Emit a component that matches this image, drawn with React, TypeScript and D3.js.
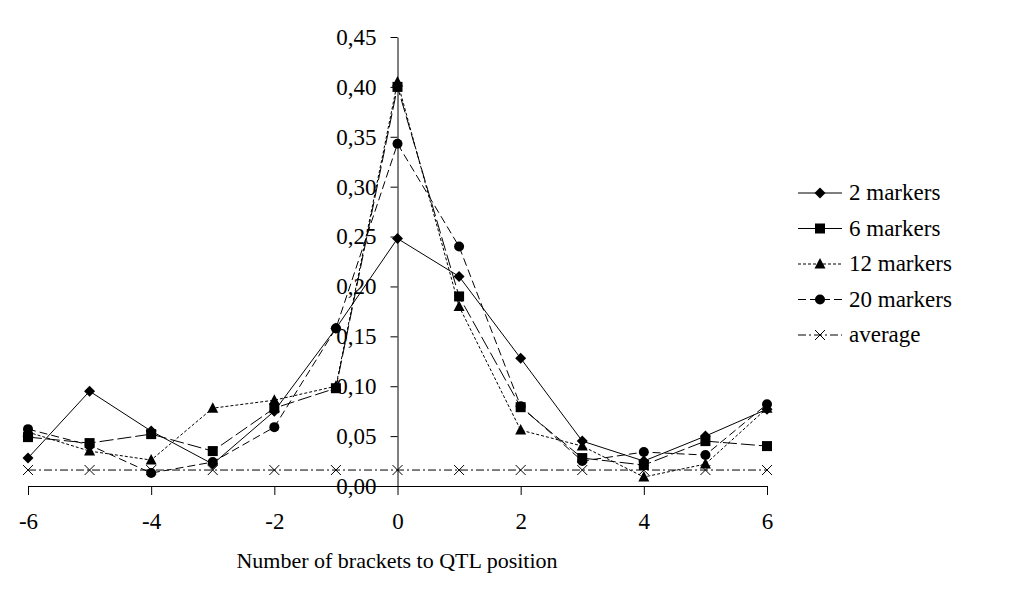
import * as d3 from 'd3';
import React, { useRef, useEffect } from 'react';

const brackets = [-6, -5, -4, -3, -2, -1, 0, 1, 2, 3, 4, 5, 6];
const twoMarkers = [0.028, 0.095, 0.055, 0.022, 0.075, 0.158, 0.248, 0.21, 0.128, 0.045, 0.025, 0.05, 0.077];
const sixMarkers = [0.049, 0.043, 0.052, 0.035, 0.078, 0.098, 0.4, 0.19, 0.079, 0.028, 0.021, 0.045, 0.04];
const twelveMarkers = [0.054, 0.035, 0.026, 0.078, 0.086, 0.1, 0.405, 0.18, 0.056, 0.04, 0.009, 0.022, 0.078];
const twentyMarkers = [0.057, 0.041, 0.013, 0.024, 0.059, 0.158, 0.343, 0.24, 0.08, 0.025, 0.034, 0.031, 0.082];
const average = [0.016, 0.016, 0.016, 0.016, 0.016, 0.016, 0.016, 0.016, 0.016, 0.016, 0.016, 0.016, 0.016];
const yTicks = [0, 0.05, 0.1, 0.15, 0.2, 0.25, 0.3, 0.35, 0.4, 0.45];
const xTicks = [-6, -4, -2, 0, 2, 4, 6];

const series = [
  { name: '2 markers', values: twoMarkers, symbol: 'diamond', dash: null },
  { name: '6 markers', values: sixMarkers, symbol: 'square', dash: '14,4' },
  { name: '12 markers', values: twelveMarkers, symbol: 'triangle', dash: '3,2' },
  { name: '20 markers', values: twentyMarkers, symbol: 'circle', dash: '8,4' },
  { name: 'average', values: average, symbol: 'cross', dash: '8,3,2,3' },
];

const width = 1031;
const height = 608;
const font = '"Liberation Serif", "Times New Roman", serif';

function drawSymbol(g, type, cx, cy) {
  if (type === 'diamond') {
    g.append('path').attr('d', `M${cx},${cy - 5.5}L${cx + 5.5},${cy}L${cx},${cy + 5.5}L${cx - 5.5},${cy}Z`).attr('fill', '#000');
  } else if (type === 'square') {
    g.append('rect').attr('x', cx - 5).attr('y', cy - 5).attr('width', 10).attr('height', 10).attr('fill', '#000');
  } else if (type === 'triangle') {
    g.append('path').attr('d', `M${cx},${cy - 6}L${cx + 5.5},${cy + 4.5}L${cx - 5.5},${cy + 4.5}Z`).attr('fill', '#000');
  } else if (type === 'circle') {
    g.append('circle').attr('cx', cx).attr('cy', cy).attr('r', 5).attr('fill', '#000');
  } else {
    g.append('path').attr('d', `M${cx - 5},${cy - 5}L${cx + 5},${cy + 5}M${cx + 5},${cy - 5}L${cx - 5},${cy + 5}`)
      .attr('stroke', '#000').attr('stroke-width', 1);
  }
}

export default function App() {
  const ref = useRef(null);

  useEffect(() => {
    const svg = d3.select(ref.current);
    svg.selectAll('*').remove();

    const x = d3.scaleLinear().domain([-6, 6]).range([28, 767]);
    const y = d3.scaleLinear().domain([0, 0.45]).range([486, 37]);
    const fmt = d => d3.format('.2f')(d).replace('.', ',');

    // y axis at x = 0
    const yAxis = svg.append('g')
      .attr('transform', `translate(${x(0)},0)`)
      .call(d3.axisLeft(y).tickValues(yTicks).tickSize(7).tickSizeOuter(0).tickPadding(14).tickFormat(fmt));
    yAxis.selectAll('text').attr('font-family', font).attr('font-size', 23).attr('fill', '#000');
    yAxis.selectAll('line, path').attr('stroke', '#000');

    const xAxis = svg.append('g')
      .attr('transform', `translate(0,${y(0)})`)
      .call(d3.axisBottom(x).tickValues(xTicks).tickSize(9).tickSizeOuter(0).tickPadding(18)
        .tickFormat(d => String(d)));
    xAxis.selectAll('text').attr('font-family', font).attr('font-size', 23).attr('fill', '#000');
    xAxis.selectAll('line, path').attr('stroke', '#000');

    const line = d3.line().x((d, i) => x(brackets[i])).y(d => y(d));

    series.forEach(s => {
      svg.append('path')
        .attr('d', line(s.values))
        .attr('fill', 'none')
        .attr('stroke', '#000')
        .attr('stroke-width', 1)
        .attr('stroke-dasharray', s.dash);
    });
    series.forEach(s => {
      const g = svg.append('g');
      s.values.forEach((v, i) => drawSymbol(g, s.symbol, x(brackets[i]), y(v)));
    });

    // legend
    const legend = svg.append('g');
    series.forEach((s, i) => {
      const ly = 193 + i * 35.5;
      legend.append('line')
        .attr('x1', 798).attr('x2', 842).attr('y1', ly).attr('y2', ly)
        .attr('stroke', '#000').attr('stroke-width', 1)
        .attr('stroke-dasharray', s.name === '6 markers' ? null : s.dash);
      drawSymbol(legend, s.symbol, 820, ly);
      legend.append('text')
        .attr('x', 849).attr('y', ly + 7)
        .attr('font-family', font).attr('font-size', 23)
        .text(s.name);
    });

    svg.append('text')
      .attr('x', 397).attr('y', 568)
      .attr('text-anchor', 'middle')
      .attr('font-family', font).attr('font-size', 22)
      .text('Number of brackets to QTL position');
  }, []);

  return (
    <svg ref={ref} width={width} height={height}
      style={{ position: 'absolute', left: 0, top: 0, background: '#fff' }} />
  );
}
